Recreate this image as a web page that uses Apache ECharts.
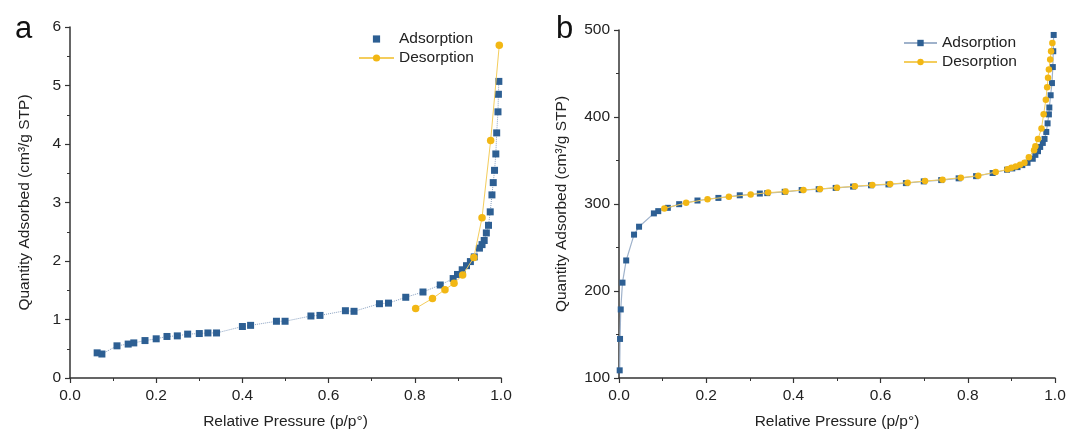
<!DOCTYPE html>
<html>
<head>
<meta charset="utf-8">
<script src="https://cdn.jsdelivr.net/npm/echarts@6/dist/echarts.min.js"></script>
<style>
html, body { margin: 0; padding: 0; background: #fff; }
#chart { width: 1072px; height: 435px; }
</style>
</head>
<body>
<div id="chart"></div>
<script>
// panel a
var adsA_x = [0.063, 0.074, 0.109, 0.135, 0.148, 0.174, 0.2, 0.225, 0.249, 0.273, 0.3, 0.32, 0.34, 0.4, 0.419, 0.479, 0.499, 0.559, 0.58, 0.639, 0.659, 0.718, 0.739, 0.779, 0.819, 0.859, 0.889, 0.899, 0.91, 0.92, 0.929, 0.938, 0.95, 0.956, 0.961, 0.966, 0.971, 0.975, 0.979, 0.982, 0.985, 0.988, 0.99, 0.993, 0.994, 0.995];
var adsA_y = [0.43, 0.41, 0.55, 0.58, 0.60, 0.64, 0.67, 0.71, 0.72, 0.75, 0.76, 0.77, 0.77, 0.88, 0.90, 0.97, 0.97, 1.06, 1.07, 1.15, 1.14, 1.27, 1.28, 1.38, 1.47, 1.59, 1.70, 1.77, 1.85, 1.92, 1.99, 2.07, 2.22, 2.28, 2.35, 2.48, 2.61, 2.84, 3.13, 3.34, 3.55, 3.83, 4.19, 4.55, 4.85, 5.07];
var desA_x = [0.996, 0.976, 0.956, 0.937, 0.911, 0.891, 0.870, 0.841, 0.802];
var desA_y = [5.69, 4.06, 2.74, 2.06, 1.76, 1.62, 1.51, 1.36, 1.19];

// panel b
var adsB_x = [0.0016, 0.0024, 0.004, 0.008, 0.0165, 0.0345, 0.046, 0.08, 0.09, 0.112, 0.138, 0.18, 0.228, 0.277, 0.323,
  0.34, 0.38, 0.419, 0.458, 0.497, 0.537, 0.578, 0.618, 0.658, 0.699, 0.739, 0.779, 0.819, 0.857,
  0.89, 0.902, 0.914, 0.925, 0.937, 0.949, 0.955, 0.961, 0.966, 0.972, 0.976, 0.98, 0.983, 0.986, 0.987, 0.99, 0.993, 0.995, 0.996, 0.997];
var adsB_y = [108.8, 144.9, 178.8, 209.6, 235.1, 264.8, 273.9, 289.2, 291.8, 295.6, 299.8, 304, 307, 310, 312,
  312.5, 314, 316, 317, 318.5, 320, 321.5, 322.5, 324, 326, 327.5, 329.5, 332, 335.6,
  339.4, 340.9, 342.4, 344.7, 347.4, 352, 356.5, 360.7, 365.6, 370.2, 374.8, 382.8, 392.7, 403, 410.9, 425, 439, 457.4, 475.6, 494.3];
var desB_x = [0.994, 0.991, 0.989, 0.986, 0.984, 0.982, 0.979, 0.974, 0.969, 0.961, 0.955, 0.952, 0.94, 0.93, 0.92, 0.91, 0.9, 0.891, 0.864, 0.824,
  0.784, 0.742, 0.702, 0.662, 0.622, 0.581, 0.541, 0.50, 0.461, 0.423, 0.382, 0.342, 0.302, 0.252, 0.203, 0.154, 0.104];
var desB_y = [485.2, 475.6, 466.1, 454.7, 445.2, 434.2, 419.7, 403.3, 386.7, 374.8, 366.4, 361.8, 353.8, 347.4, 345, 343.2, 341.7, 339.8, 336.7, 332.5,
  330.3, 328, 326.4, 324.5, 323, 321.9, 320.4, 318.8, 317.3, 316.2, 314.3, 313.1, 310.8, 308.2, 305.5, 301.3, 294.9];

function pairs(xs, ys) {
    return xs.map(function (v, i) { return [v, ys[i]]; });
}

var BLUE = '#2d5f93';
var YELLOW = '#f2b714';
var FONT = 'Liberation Sans, Arial, sans-serif';

function xAxisCfg(idx) {
    return {
        gridIndex: idx, type: 'value', min: 0, max: 1, interval: 0.2,
        name: 'Relative Pressure (p/p°)', nameLocation: 'middle', nameGap: 36,
        nameTextStyle: { fontSize: 15.5, color: '#222', fontFamily: FONT },
        axisLine: { lineStyle: { color: '#333', width: 1.5 } },
        axisTick: { inside: false, length: 5, lineStyle: { color: '#333', width: 1.2 } },
        minorTick: { show: true, splitNumber: 2, length: 3, lineStyle: { color: '#333', width: 1 } },
        axisLabel: { fontSize: 15.5, color: '#222', fontFamily: FONT, margin: 10,
            formatter: function (v) { return v.toFixed(1); } },
        splitLine: { show: false }
    };
}

function yAxisCfg(idx, min, max, step, gap) {
    return {
        gridIndex: idx, type: 'value', min: min, max: max, interval: step,
        name: 'Quantity Adsorbed (cm³/g STP)', nameLocation: 'middle', nameGap: gap,
        nameTextStyle: { fontSize: 15.5, color: '#222', fontFamily: FONT },
        axisLine: { show: true, lineStyle: { color: '#333', width: 1.5 } },
        axisTick: { show: true, inside: false, length: 5, lineStyle: { color: '#333', width: 1.2 } },
        minorTick: { show: true, splitNumber: 2, length: 3, lineStyle: { color: '#333', width: 1 } },
        axisLabel: { fontSize: 15.5, color: '#222', fontFamily: FONT, margin: 9 },
        splitLine: { show: false }
    };
}

var chart = echarts.init(document.getElementById('chart'));
var option = {
    backgroundColor: '#fff',
    animation: false,
    title: [
        { text: 'a', left: 10, top: 9, textStyle: { fontSize: 31, fontWeight: 'normal', color: '#111', fontFamily: FONT } },
        { text: 'b', left: 551, top: 9, textStyle: { fontSize: 31, fontWeight: 'normal', color: '#111', fontFamily: FONT } }
    ],
    legend: [
        {
            orient: 'vertical', left: 353, top: 26, itemWidth: 35, itemHeight: 9, itemGap: 3,
            textStyle: { fontSize: 15.5, color: '#222', fontFamily: FONT },
            data: [
                { name: 'Adsorption', lineStyle: { opacity: 0 } },
                { name: 'Desorption' }
            ]
        },
        {
            orient: 'vertical', left: 898, top: 30, itemWidth: 33, itemHeight: 8, itemGap: 3,
            textStyle: { fontSize: 15.5, color: '#222', fontFamily: FONT },
            formatter: function (n) { return n.replace(' (b)', ''); },
            data: ['Adsorption (b)', 'Desorption (b)']
        }
    ],
    grid: [
        { left: 70, top: 27, width: 431, height: 352 },
        { left: 619, top: 30, width: 436, height: 350 }
    ],
    xAxis: [xAxisCfg(0), xAxisCfg(1)],
    yAxis: [yAxisCfg(0, 0, 6, 1, 37), yAxisCfg(1, 100, 500, 100, 49)],
    series: [
        {
            name: 'Adsorption', type: 'line', xAxisIndex: 0, yAxisIndex: 0,
            data: pairs(adsA_x, adsA_y), symbol: 'rect', symbolSize: 7,
            itemStyle: { color: BLUE },
            lineStyle: { color: '#8aa2c2', width: 1, type: 'dotted' },
            z: 2
        },
        {
            name: 'Desorption', type: 'line', xAxisIndex: 0, yAxisIndex: 0,
            data: pairs(desA_x, desA_y), symbol: 'circle', symbolSize: 7.5,
            itemStyle: { color: YELLOW },
            lineStyle: { color: '#f4cd5c', width: 1 },
            z: 3
        },
        {
            name: 'Adsorption (b)', type: 'line', xAxisIndex: 1, yAxisIndex: 1,
            data: pairs(adsB_x, adsB_y), symbol: 'rect', symbolSize: 6,
            itemStyle: { color: BLUE },
            lineStyle: { color: '#9fb2cb', width: 1.2 },
            z: 2
        },
        {
            name: 'Desorption (b)', type: 'line', xAxisIndex: 1, yAxisIndex: 1,
            data: pairs(desB_x, desB_y), symbol: 'circle', symbolSize: 6.5,
            itemStyle: { color: YELLOW },
            lineStyle: { color: '#f4cd5c', width: 1 },
            z: 3
        }
    ]
};
chart.setOption(option);
</script>
</body>
</html>
